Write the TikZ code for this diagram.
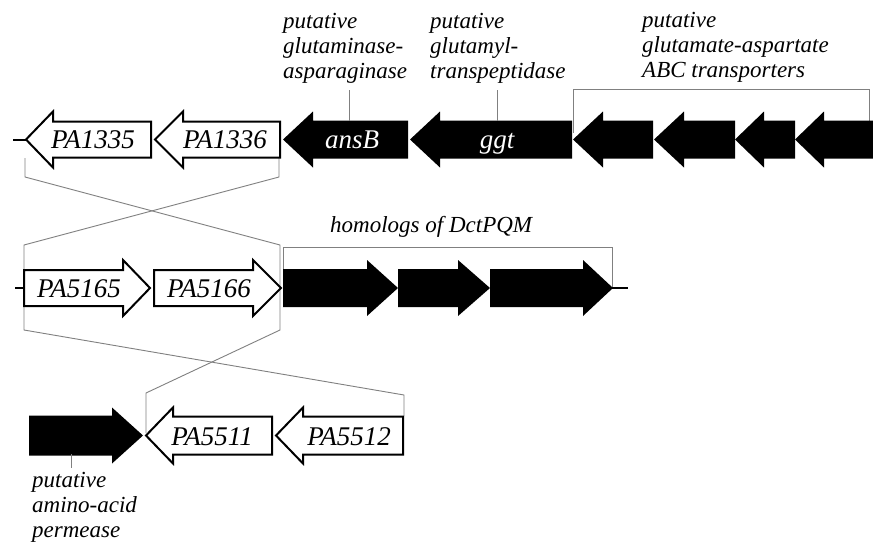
\documentclass[tikz,border=0pt]{standalone}
\usepackage{fontspec}
\setmainfont{Liberation Serif}
\newcommand\geneL[6]{% style, tail x, base x, tip x, centre y, (unused)
  \path[#1] (#2,#5-#6) -- (#3,#5-#6) -- (#3,#5-28) -- (#4,#5) -- (#3,#5+28) -- (#3,#5+#6) -- (#2,#5+#6) -- cycle;}
\newcommand\threelines[3]{\vtop{\baselineskip=25pt\lineskiplimit=-100pt\hbox{#1}\hbox{#2}\hbox{#3}}}
\begin{document}
\begin{tikzpicture}[x=1pt,y=-1pt,
  whitegene/.style={draw=black,fill=white,line width=2pt,line join=miter,miter limit=10},
  blackgene/.style={fill=black},
  genelabel/.style={font=\fontsize{27}{27}\selectfont\itshape,inner sep=0pt,anchor=base},
  notelabel/.style={font=\fontsize{23}{25}\selectfont\itshape,inner sep=0pt,anchor=base west},
  thin gray/.style={draw=black!50,line width=0.9pt},
  stub/.style={draw=black,line width=2pt}]
\useasboundingbox (0,0) rectangle (873,552);
\fill[white] (0,0) rectangle (873,552);

% ---------- connectors (gray, behind) ----------
\draw[thin gray] (25,158) -- (25,177) -- (280,245) -- (280,330) -- (146,393) -- (146,433);
\draw[thin gray] (279,158) -- (279,177) -- (24,245) -- (24,330) -- (404,395) -- (404,416);
\draw[thin gray] (283,270) -- (283,247) -- (612,247) -- (612,288);
\draw[thin gray] (573,133) -- (573,89) -- (869,89) -- (869,121);

% ---------- stubs ----------
\draw[stub] (13,139.5) -- (26,139.5);
\draw[stub] (15,288) -- (24,288);
\draw[stub] (612,288) -- (628,288);

% ---------- top row ----------
\geneL{whitegene}{151}{53}{26}{139.5}{18}
\geneL{whitegene}{280}{183}{155}{139.5}{18}
\geneL{blackgene}{408}{313}{283}{139.5}{19}
\geneL{blackgene}{572}{440}{410}{139.5}{19}
\geneL{blackgene}{653}{603}{573}{139.5}{19}
\geneL{blackgene}{735}{684}{654}{139.5}{19}
\geneL{blackgene}{795}{764}{735}{139.5}{19}
\geneL{blackgene}{873}{824}{795}{139.5}{19}

% ---------- middle row ----------
\geneL{whitegene}{24}{123}{150}{288}{18}
\geneL{whitegene}{154}{253}{281}{288}{18}
\geneL{blackgene}{283}{367}{398}{288}{19}
\geneL{blackgene}{398}{458}{490}{288}{19}
\geneL{blackgene}{490}{583}{613}{288}{19}

% ---------- bottom row ----------
\geneL{blackgene}{29}{112}{143}{435.5}{20}
\geneL{whitegene}{272}{173}{146}{435.5}{19}
\geneL{whitegene}{403}{303}{276}{435.5}{19}

% ---------- gene names ----------
\node[genelabel] (pa1335) at (93,148) {PA1335};
\node[genelabel] (pa1336) at (225,148) {PA1336};
\node[genelabel,text=white] (ansb) at (352,148) {ansB};
\node[genelabel,text=white] (ggt) at (497,148) {ggt};
\node[genelabel] (pa5165) at (79,297) {PA5165};
\node[genelabel] (pa5166) at (209,297) {PA5166};
\node[genelabel] (pa5511) at (212,445) {PA5511};
\node[genelabel] (pa5512) at (349,445) {PA5512};

% ---------- annotations ----------
\node[notelabel] (glnlab) at (283,28) {\threelines{putative}{glutaminase-}{asparaginase}};
\node[notelabel] (gltlab) at (430,28) {\threelines{putative}{glutamyl-}{transpeptidase}};
\node[notelabel] (abclab) at (642,27) {\threelines{putative}{glutamate-aspartate}{ABC transporters}};
\node[notelabel] (dctlab) at (330,232) {homologs of DctPQM};
\node[notelabel] (aalab) at (32,487) {\threelines{putative}{amino-acid}{permease}};

\coordinate (glnA) at (349,90);  \coordinate (glnB) at (349,121);
\coordinate (gltA) at (497,90);  \coordinate (gltB) at (497,121);
\coordinate (aaA) at (71,454);   \coordinate (aaB) at (71,468);
\draw[thin gray] (glnA) -- (glnB);
\draw[thin gray] (gltA) -- (gltB);
\draw[thin gray] (aaA) -- (aaB);
\end{tikzpicture}
\end{document}
